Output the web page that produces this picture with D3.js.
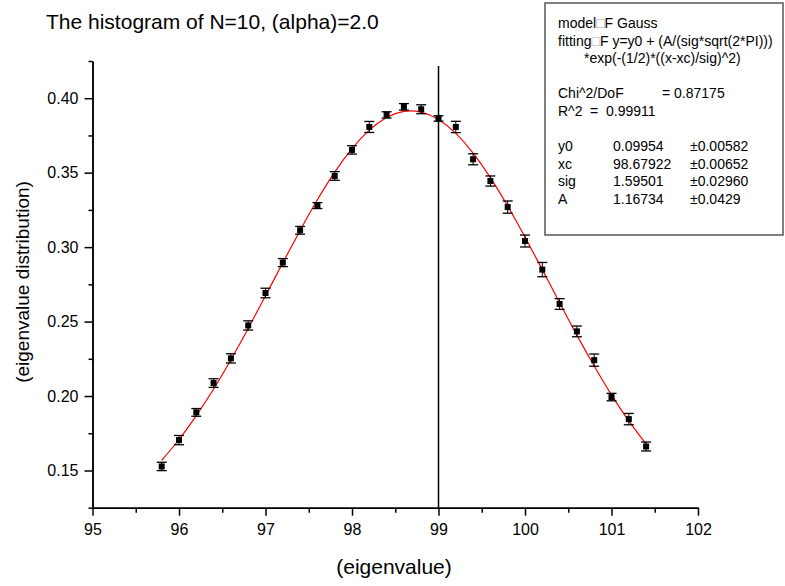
<!DOCTYPE html>
<html>
<head>
<meta charset="utf-8">
<script src="https://cdn.jsdelivr.net/npm/d3@7"></script>
<style>
  body { margin: 0; background: #fff; }
  text { font-family: "Liberation Sans", Arial, sans-serif; }
</style>
</head>
<body>
<svg id="chart" width="785" height="586"></svg>
<script>
// Data
const xValues = [95.8, 96.0, 96.2, 96.4, 96.6, 96.8, 97.0, 97.2, 97.4, 97.6,
  97.8, 98.0, 98.2, 98.4, 98.6, 98.8, 99.0, 99.2, 99.4, 99.6,
  99.8, 100.0, 100.2, 100.4, 100.6, 100.8, 101.0, 101.2, 101.4];
const yValues = [0.1527, 0.1704, 0.1890, 0.2087, 0.2253, 0.2474, 0.2692, 0.2896, 0.3113, 0.3279,
  0.3478, 0.3653, 0.3807, 0.3888, 0.3942, 0.3926, 0.3864, 0.3807, 0.3590, 0.3444,
  0.3269, 0.3041, 0.2849, 0.2618, 0.2434, 0.2241, 0.1993, 0.1845, 0.1661];
const yErrors = [0.0028, 0.0031, 0.0026, 0.0029, 0.0031, 0.0031, 0.0032, 0.0027, 0.0026, 0.0020,
  0.0029, 0.0028, 0.0037, 0.0021, 0.0022, 0.0030, 0.0018, 0.0038, 0.0037, 0.0034,
  0.0041, 0.0040, 0.0048, 0.0036, 0.0036, 0.0041, 0.0025, 0.0038, 0.0030];
// red fit line at the same x positions
const fitValues = [0.1568, 0.1708, 0.1868, 0.2047, 0.2244, 0.2454, 0.2673, 0.2895, 0.3112, 0.3318,
  0.3504, 0.3662, 0.3786, 0.3871, 0.3912, 0.3907, 0.3857, 0.3764, 0.3632, 0.3467,
  0.3276, 0.3068, 0.2849, 0.2627, 0.2409, 0.2202, 0.2008, 0.1833, 0.1677];
const xTicks = [95, 96, 97, 98, 99, 100, 101, 102];
const xMinorTicks = [95.5, 96.5, 97.5, 98.5, 99.5, 100.5, 101.5];
const yTicks = [0.15, 0.20, 0.25, 0.30, 0.35, 0.40];
const yMinorTicks = [0.125, 0.175, 0.225, 0.275, 0.325, 0.375, 0.425];
const markerX = 99;

const infoLines = [
  ["model", "□", "F Gauss"],
  ["fitting", "□", "F y=y0 + (A/(sig*sqrt(2*PI)))"]
];
const paramNames = ["y0", "xc", "sig", "A"];
const paramValues = ["0.09954", "98.67922", "1.59501", "1.16734"];
const paramErrors = ["±0.00582", "±0.00652", "±0.02960", "±0.0429"];

// Scales
const svg = d3.select("#chart");
const x = d3.scaleLinear().domain([95, 102]).range([92.5, 698]);
const y = d3.scaleLinear().domain([0.125, 0.425]).range([507.7, 61]);

// Axes
function styleAxis(g) {
  g.selectAll("path.domain").attr("stroke", "#000").attr("stroke-width", 1.5);
  g.selectAll(".tick line").attr("stroke", "#000").attr("stroke-width", 1.5);
  g.selectAll("text").attr("fill", "#000").attr("font-size", 16)
    .attr("font-family", "Liberation Sans, Arial, sans-serif");
}

svg.append("g")
  .attr("transform", `translate(0,${y.range()[0]})`)
  .call(d3.axisBottom(x).tickValues(xMinorTicks).tickSize(5).tickSizeOuter(0).tickFormat(""))
  .call(styleAxis);
svg.append("g")
  .attr("transform", `translate(0,${y.range()[0]})`)
  .call(d3.axisBottom(x).tickValues(xTicks).tickSize(8).tickPadding(8).tickSizeOuter(0).tickFormat(d3.format("d")))
  .call(styleAxis);

svg.append("g")
  .attr("transform", `translate(${x.range()[0]},0)`)
  .call(d3.axisLeft(y).tickValues(yMinorTicks).tickSize(4).tickSizeOuter(0).tickFormat(""))
  .call(styleAxis);
svg.append("g")
  .attr("transform", `translate(${x.range()[0]},0)`)
  .call(d3.axisLeft(y).tickValues(yTicks).tickSize(8).tickPadding(6).tickSizeOuter(0).tickFormat(d3.format(".2f")))
  .call(styleAxis);

// Vertical marker
svg.append("line")
  .attr("x1", x(markerX)).attr("x2", x(markerX))
  .attr("y1", 66).attr("y2", y.range()[0])
  .attr("stroke", "#000").attr("stroke-width", 1.5);

// Fit curve
const fitData = xValues.map((v, i) => [v, fitValues[i]]);
svg.append("path")
  .datum(fitData)
  .attr("fill", "none")
  .attr("stroke", "#ff0000")
  .attr("stroke-width", 1.2)
  .attr("d", d3.line().x(d => x(d[0])).y(d => y(d[1])).curve(d3.curveNatural));

// Error bars + points
const pts = xValues.map((v, i) => ({ x: v, y: yValues[i], e: yErrors[i] }));
const bars = svg.append("g").selectAll("g").data(pts).join("g");
bars.append("line")
  .attr("x1", d => x(d.x)).attr("x2", d => x(d.x))
  .attr("y1", d => y(d.y - d.e)).attr("y2", d => y(d.y + d.e))
  .attr("stroke", "#000").attr("stroke-width", 1);
bars.selectAll("line.cap")
  .data(d => [[d.x, d.y - d.e], [d.x, d.y + d.e]])
  .join("line")
  .attr("class", "cap")
  .attr("x1", d => x(d[0]) - 5).attr("x2", d => x(d[0]) + 5)
  .attr("y1", d => y(d[1])).attr("y2", d => y(d[1]))
  .attr("stroke", "#000").attr("stroke-width", 1.3);
bars.append("rect")
  .attr("x", d => x(d.x) - 3).attr("y", d => y(d.y) - 3)
  .attr("width", 6).attr("height", 6)
  .attr("fill", "#000");

// Titles
svg.append("text")
  .attr("x", 46).attr("y", 29)
  .attr("font-size", 21)
  .text("The histogram of N=10, (alpha)=2.0");
svg.append("text")
  .attr("x", 394).attr("y", 574)
  .attr("text-anchor", "middle")
  .attr("font-size", 21)
  .text("(eigenvalue)");
svg.append("text")
  .attr("transform", "translate(29,282) rotate(-90)")
  .attr("text-anchor", "middle")
  .attr("font-size", 19)
  .text("(eigenvalue distribution)");

// Fit info box
const box = svg.append("g");
box.append("rect")
  .attr("x", 545).attr("y", 3).attr("width", 238).attr("height", 232)
  .attr("fill", "#fff").attr("stroke", "#555").attr("stroke-width", 1.5);

const info = box.append("g").attr("font-size", 14).attr("fill", "#000");
infoLines.forEach((l, i) => {
  const t = info.append("text").attr("x", 558).attr("y", 28 + i * 18);
  t.append("tspan").text(l[0]);
  t.append("tspan").attr("fill", "#aaa").text(l[1]);
  t.append("tspan").text(l[2]);
});
info.append("text").attr("x", 584).attr("y", 63).text("*exp(-(1/2)*((x-xc)/sig)^2)");
info.append("text").attr("x", 558).attr("y", 98).text("Chi^2/DoF");
info.append("text").attr("x", 662).attr("y", 98).text("= 0.87175");
info.append("text").attr("x", 558).attr("y", 116).text("R^2");
info.append("text").attr("x", 590).attr("y", 116).attr("xml:space", "preserve").text("=  0.99911");

paramNames.forEach((n, i) => {
  const yy = 151 + i * 17.5;
  info.append("text").attr("x", 558).attr("y", yy).text(n);
  info.append("text").attr("x", 613).attr("y", yy).text(paramValues[i]);
  info.append("text").attr("x", 690).attr("y", yy).text(paramErrors[i]);
});
</script>
</body>
</html>
